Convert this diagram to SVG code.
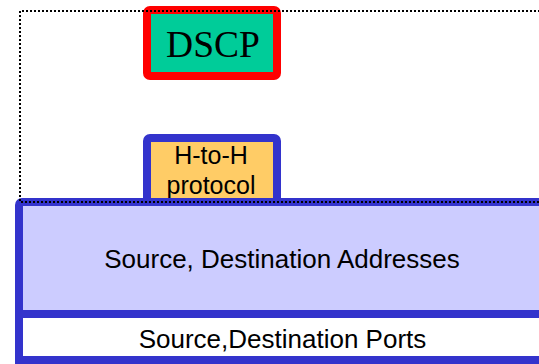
<svg xmlns="http://www.w3.org/2000/svg" width="539" height="364" viewBox="0 0 539 364">
<style>
.sans{font-family:"Liberation Sans",Arial,sans-serif;fill:#000;text-anchor:middle}
.serif{font-family:"Liberation Serif","Times New Roman",serif;fill:#000;text-anchor:middle}
.blue{stroke:#3333CC;stroke-width:8}
.dot{fill:none;stroke:#000;stroke-width:2;stroke-dasharray:2 2}
</style>
<rect width="539" height="364" fill="#fff"/>
<g id="dscp">
<rect x="147" y="10" width="130" height="66" rx="3" fill="#00CC99" stroke="#FF0000" stroke-width="8"/>
<text class="serif" x="213" y="57" font-size="37.5">DSCP</text>
</g>
<g id="hth">
<rect x="147" y="138" width="130" height="66" rx="3" fill="#FFCC66" class="blue"/>
<text class="sans" x="211" y="164" font-size="25">H-to-H</text>
<text class="sans" x="211" y="194" font-size="25">protocol</text>
</g>
<g id="addresses">
<rect x="19" y="202" width="526" height="112" rx="3" fill="#CCCCFF" class="blue"/>
<text class="sans" x="282" y="268" font-size="26">Source, Destination Addresses</text>
</g>
<g id="ports">
<rect x="19" y="314" width="526" height="46" fill="#FFFFFF" class="blue"/>
<text class="sans" x="282.5" y="348" font-size="26">Source,Destination Ports</text>
</g>
<g id="connectors">
<path class="dot" d="M 560 11 H 20 V 202 H 560"/>
</g>
</svg>
